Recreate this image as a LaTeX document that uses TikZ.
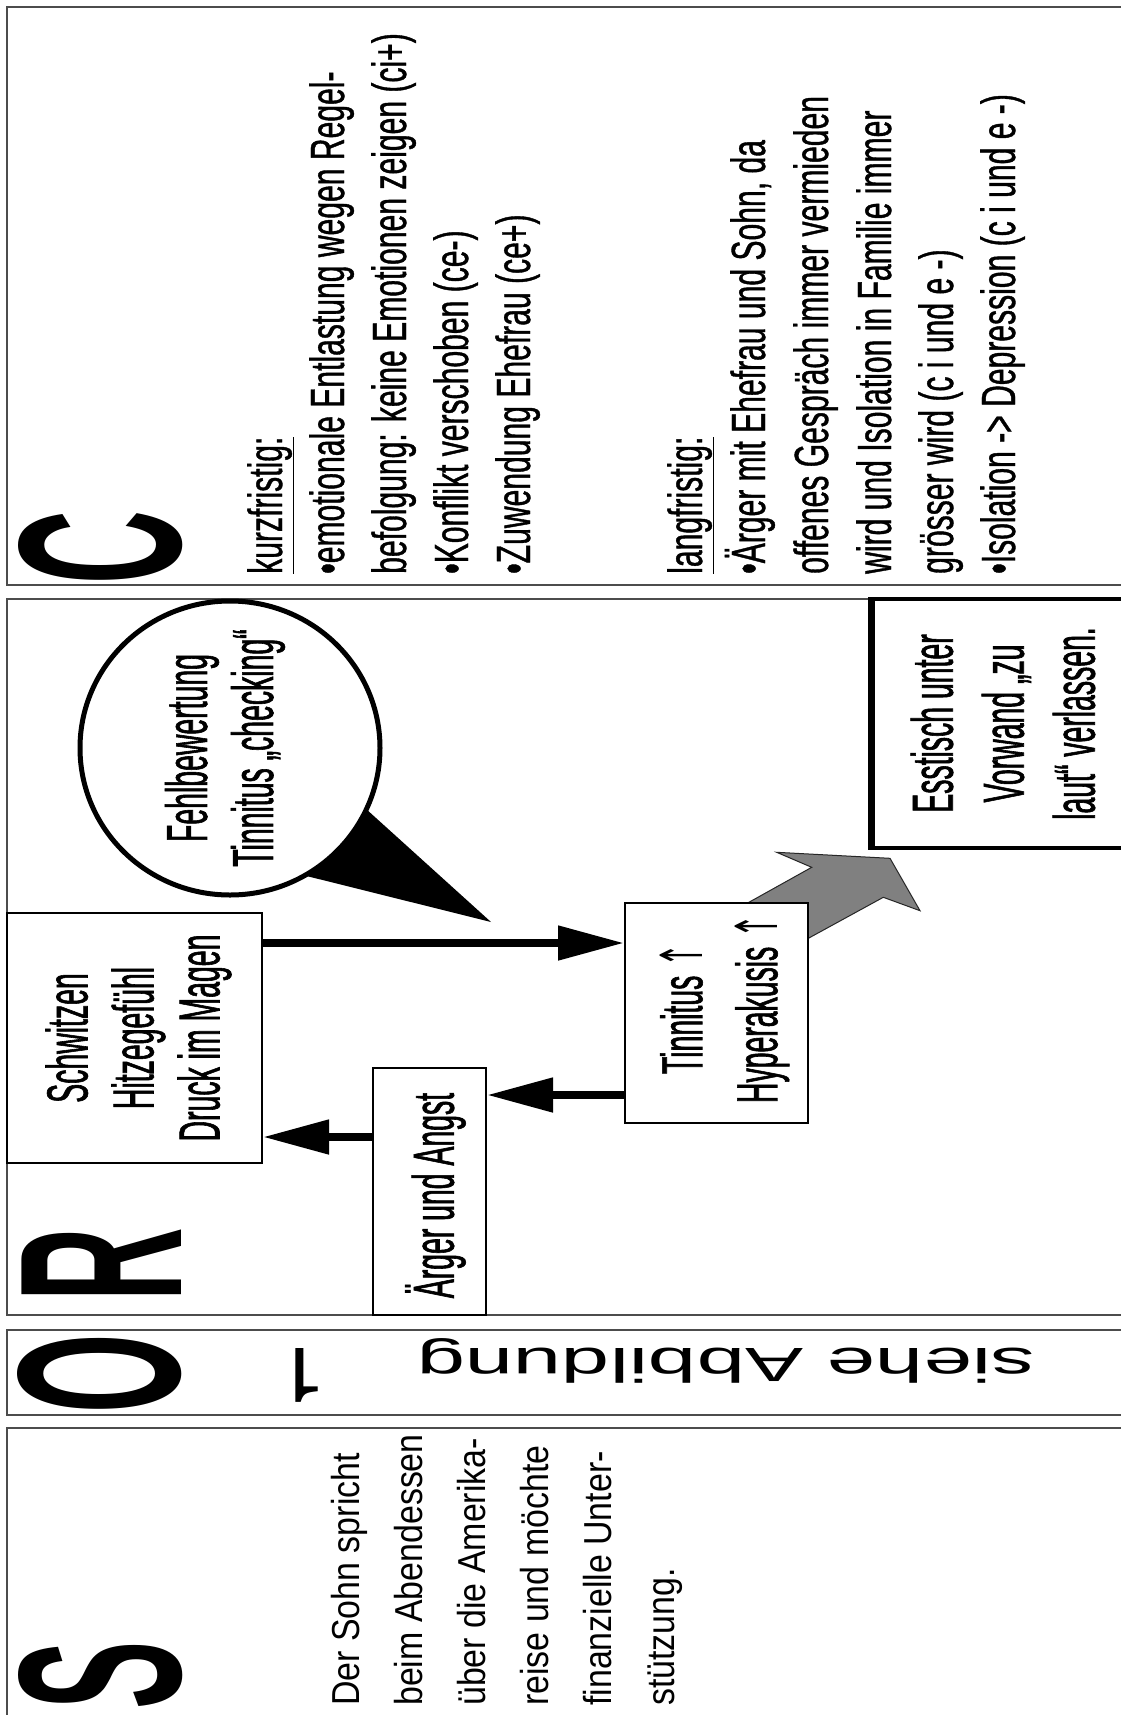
\documentclass[tikz,border=0pt]{standalone}
\usepackage{fontspec}
\setmainfont{Liberation Sans}
\newfontfamily\cfont[FakeStretch=0.627,FakeBold=0.8]{Liberation Sans}
\newfontfamily\rfont[FakeStretch=0.49,FakeBold=1]{Liberation Sans}
\newfontfamily\sfont[FakeStretch=0.87]{Liberation Sans}
\newfontfamily\ofont[FakeStretch=1.81]{Liberation Sans}
\newfontfamily\onefont[FakeStretch=1.2]{TeX Gyre Heros}
\newfontfamily\bigfont[FakeStretch=0.44]{Liberation Sans}
\newfontfamily\arrfont[FakeStretch=0.49]{DejaVu Sans}
\usetikzlibrary{arrows.meta,calc,shapes.geometric}
\begin{document}
\begin{tikzpicture}[x=1pt,y=-1pt,
  panel/.style={draw=black!70, line width=2pt},
  box/.style={draw=black, line width=2pt, fill=white, inner sep=0pt},
  bigletter/.style={font=\bigfont\bfseries\fontsize{232}{232}\selectfont, rotate=90, inner sep=0pt, anchor=center},
  ctext/.style={font=\cfont\fontsize{48}{52}\selectfont, rotate=90, inner sep=0pt, anchor=base west},
  stext/.style={font=\sfont\fontsize{39}{44}\selectfont, rotate=90, inner sep=0pt, anchor=base west},
  rtext/.style={font=\rfont\fontsize{58}{71}\selectfont, rotate=90, inner sep=0pt, align=center},
  otext/.style={font=\ofont\fontsize{48}{48}\selectfont, rotate=180, inner sep=0pt},
  arr/.style={line width=8pt, -{Triangle[length=66pt,width=33pt]}}
]
\useasboundingbox (0,0) rectangle (1121,1715);
\fill[white] (0,0) rectangle (1121,1715);

% panels
\draw[panel] (7,7) rectangle (1140,585);
\draw[panel] (7,599) rectangle (1140,1315);
\draw[panel] (7,1330) rectangle (1140,1415);
\draw[panel] (7,1428) rectangle (1140,1740);

% big letters
\node[bigletter] (bigC) at (101,548) {C};
\node[bigletter] (bigR) at (102,1265) {R};
\node[bigletter] (bigO) at (100,1374) {O};
\node[bigletter] (bigS) at (101,1675) {S};

% C panel
\node[ctext] (c1) at (282,574) {\underline{kurzfristig:}};
\node[ctext] (c2) at (344,574) {•emotionale Entlastung wegen Regel-};
\node[ctext] (c3) at (406,574) {befolgung: keine Emotionen zeigen (ci+)};
\node[ctext] (c4) at (468,574) {•Konflikt verschoben (ce-)};
\node[ctext] (c5) at (530,574) {•Zuwendung Ehefrau (ce+)};
\node[ctext] (c6) at (702,574) {\underline{langfristig:}};
\node[ctext] (c7) at (765,574) {•Ärger mit Ehefrau und Sohn, da};
\node[ctext] (c8) at (828,574) {offenes Gespräch immer vermieden};
\node[ctext] (c9) at (891,574) {wird und Isolation in Familie immer};
\node[ctext] (c10) at (953,574) {grösser wird (c i und e -)};
\node[ctext] (c11) at (1015,574) {•Isolation -> Depression (c i und e -)};

% O panel
\node[otext, anchor=base west] (o1) at (1035,1348) {siehe Abbildung};
\node[otext, font=\onefont\fontsize{76}{76}\selectfont] (o2) at (302,1375) {1};

% S panel
\node[stext] (s1) at (359,1706) {Der Sohn spricht};
\node[stext] (s2) at (422,1706) {beim Abendessen};
\node[stext] (s3) at (485,1706) {über die Amerika-};
\node[stext] (s4) at (548,1706) {reise und möchte};
\node[stext] (s5) at (611,1706) {finanzielle Unter-};
\node[stext] (s6) at (674,1706) {stützung.};

% R panel: gray block arrow (under the Tinnitus box)
\filldraw[fill=black!50, draw=black!85, line width=1pt]
  (720,918.4) -- (811.7,867.3) -- (776.7,852.3) -- (890,858.3) -- (920,910.7)
  -- (883.3,897.3) -- (780,953.8) -- cycle;

% callout
\coordinate (calltip) at (491,922);
\fill[black] ($(230,748)+(24.5:152)$) -- (calltip) -- ($(230,748)+(58.8:150)$) -- cycle;
\node[draw, ellipse, line width=5pt, fill=white, minimum width=300pt, minimum height=294pt, inner sep=0pt] (call) at (230,748) {};
\node[rtext, font=\rfont\fontsize{58}{66}\selectfont] (callt) at ([xshift=-5pt]call.center) {Fehlbewertung\\Tinnitus „checking“};

% boxes
\node[box, minimum width=255pt, minimum height=250pt] (schw) at (134.5,1038) {};
\node[box, minimum width=113pt, minimum height=247pt] (aerg) at (429.5,1191.5) {};
\node[box, minimum width=183pt, minimum height=220pt] (tinn) at (716.5,1013) {};
\node[box, line width=3.5pt, minimum width=270pt, minimum height=249pt] (essen) at (1008,723.5) {};
\draw[line width=7.5pt] (essen.north west) -- (essen.south west);

\node[rtext, font=\rfont\fontsize{58}{66}\selectfont] (schwt) at ([xshift=4pt]schw.center) {Schwitzen\\Hitzegefühl\\Druck im Magen};
\node[rtext] (aergt) at ([xshift=6pt,yshift=-4pt]aerg.center) {Ärger und Angst};
\node[rtext, font=\rfont\fontsize{58}{75}\selectfont] (tinnt) at ([xshift=8pt,yshift=4pt]tinn.center) {Tinnitus {\arrfont ↑}\\Hyperakusis {\arrfont ↑}};
\node[rtext] (essent) at ([xshift=-5pt]essen.center) {Esstisch unter\\Vorwand „zu\\laut“ verlassen.};

% connectors
\draw[arr] ([yshift=95pt]schw.east) -- ([yshift=95pt]schw.east -| tinn.west);
\draw[arr] ([yshift=-82pt]tinn.west) -- ([yshift=-82pt]tinn.west -| aerg.east);
\draw[arr] ([yshift=54.5pt]aerg.west) -- ([yshift=54.5pt]aerg.west -| schw.east);
\end{tikzpicture}
\end{document}
